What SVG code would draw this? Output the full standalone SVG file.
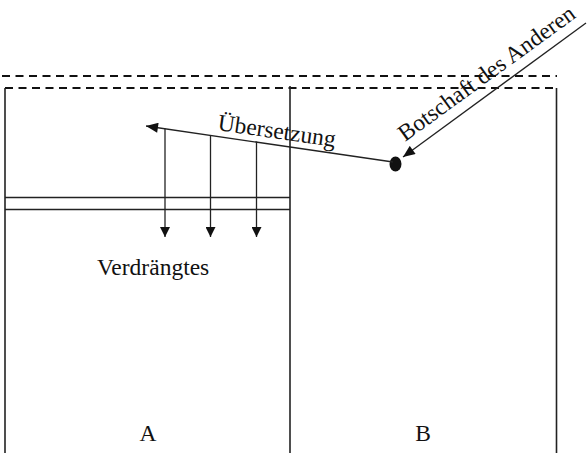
<svg xmlns="http://www.w3.org/2000/svg" width="588" height="453" viewBox="0 0 588 453">
<style>
.t{font-family:"Liberation Serif","Times New Roman",serif;font-size:23.5px;fill:#111}
.box{fill:none;stroke:#222;stroke-width:1.6}
.dash{fill:none;stroke:#111;stroke-width:2;stroke-dasharray:8 5.5}
.ln{fill:none;stroke:#222;stroke-width:1.3}
</style>
<defs>
<marker id="ah" viewBox="0 0 10 10" refX="10" refY="5" markerWidth="10" markerHeight="10" markerUnits="userSpaceOnUse" orient="auto">
<path d="M0,0L10,5L0,10z" fill="#111"/>
</marker>
<marker id="ahl" viewBox="0 0 12 10" refX="12" refY="5" markerWidth="13" markerHeight="10" markerUnits="userSpaceOnUse" orient="auto">
<path d="M0,0L12,5L0,10z" fill="#111"/>
</marker>
</defs>
<g id="boundary">
<line class="dash" x1="2" y1="76" x2="557" y2="76"/>
<path class="dash" d="M5,88H556.5"/>
</g>
<g id="nodeA">
<path class="box" d="M5,88V453"/>
<line class="ln" x1="5" y1="197.5" x2="290" y2="197.5"/>
<line class="box" x1="5" y1="209.5" x2="290" y2="209.5" stroke-width="2"/>
<text class="t" x="97" y="275">Verdrängtes</text>
<text class="t" x="148" y="441" text-anchor="middle">A</text>
</g>
<g id="nodeB">
<path class="box" d="M290,86V453"/>
<path class="box" d="M556.5,88V453"/>
<text class="t" x="423" y="441" text-anchor="middle">B</text>
<ellipse cx="395.5" cy="164" rx="6" ry="7.5" fill="#111"/>
</g>
<g id="connectors">
<line class="ln" x1="393" y1="162" x2="146" y2="126" marker-end="url(#ahl)"/>
<line class="ln" x1="586" y1="23" x2="403" y2="157" marker-end="url(#ahl)"/>
<line class="ln" x1="165" y1="128.5" x2="165" y2="237" stroke="#444" marker-end="url(#ah)"/>
<line class="ln" x1="210.5" y1="135" x2="210.5" y2="237" stroke="#444" marker-end="url(#ah)"/>
<line class="ln" x1="256.5" y1="141.5" x2="256.5" y2="237" stroke="#444" marker-end="url(#ah)"/>
<text class="t" transform="translate(217,130) rotate(8.2)">Übersetzung</text>
<text class="t" transform="translate(405,142) rotate(-36)" font-size="24.5">Botschaft des Anderen</text>
</g>
</svg>
